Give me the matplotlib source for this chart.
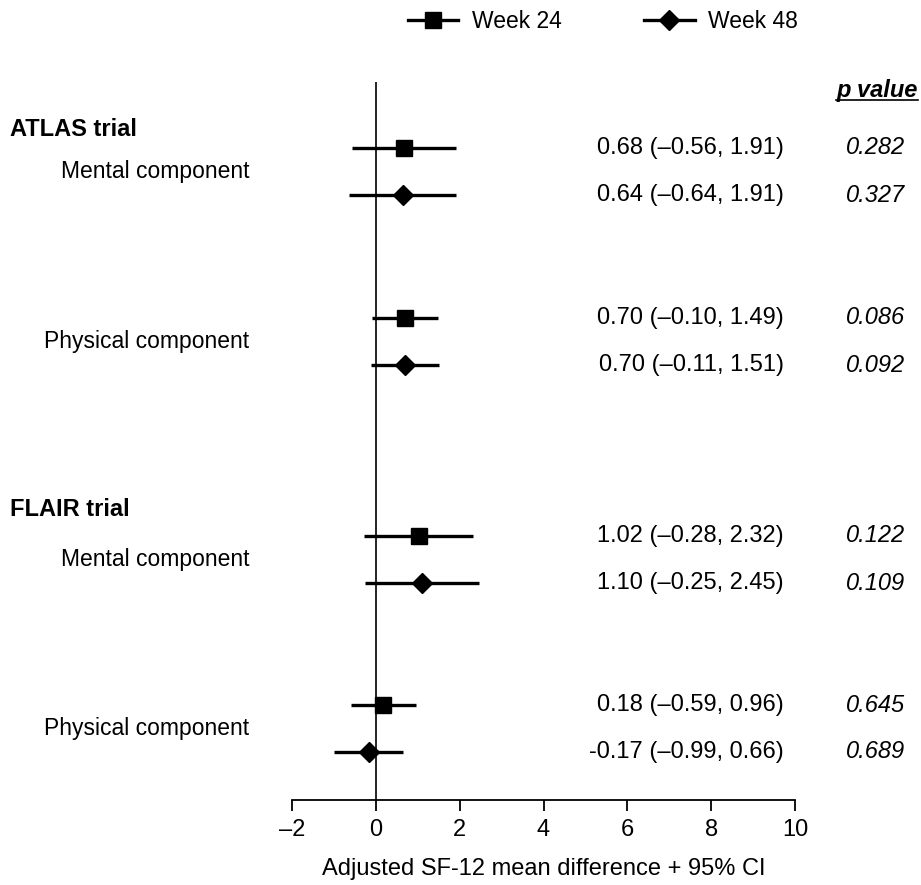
import matplotlib.pyplot as plt
from matplotlib.transforms import blended_transform_factory

plt.rcParams['font.family'] = ['Liberation Sans', 'DejaVu Sans']

trials = ['ATLAS trial', 'FLAIR trial']
components = ['Mental component', 'Physical component']
weeks = ['Week 24', 'Week 48']

# per trial/component: [week 24, week 48]
est = [[0.68, 0.64], [0.70, 0.70], [1.02, 1.10], [0.18, -0.17]]
lo = [[-0.56, -0.64], [-0.10, -0.11], [-0.28, -0.25], [-0.59, -0.99]]
hi = [[1.91, 1.91], [1.49, 1.51], [2.32, 2.45], [0.96, 0.66]]
pvals = [['0.282', '0.327'], ['0.086', '0.092'], ['0.122', '0.109'], ['0.645', '0.689']]
xticks = [-2, 0, 2, 4, 6, 8, 10]

W, H = 921, 885
fig = plt.figure(figsize=(W / 100, H / 100), dpi=100)
ax = fig.add_axes([292 / W, 1 - 800 / H, (795 - 292) / W, (800 - 82) / H])
ax.set_xlim(-2, 10)
ax.set_ylim(800, 82)   # y in pixel-ish rows from the top

# row layout: pair spacing and gaps between blocks
pair_top = [148, 318, 536, 705]
dy = 47
markers = ['s', 'D']
msize = [11.5, 10]

FS = 17
tx = blended_transform_factory(fig.transFigure, ax.transData)

for i in range(4):
    for w in range(2):
        y = pair_top[i] + w * dy
        e = est[i][w]
        ax.plot([lo[i][w], hi[i][w]], [y, y], color='black', lw=2.4,
                solid_capstyle='butt', zorder=2)
        ax.plot([e], [y], marker=markers[w], ms=msize[w], color='black',
                mec='black', ls='none', zorder=3)
        est_str = f'{e:.2f}'
        lo_str = f'{lo[i][w]:.2f}'.replace('-', '\u2013')
        hi_str = f'{hi[i][w]:.2f}'.replace('-', '\u2013')
        ax.text(784 / W, y, f'{est_str} ({lo_str}, {hi_str})', transform=tx,
                ha='right', va='center', fontsize=FS)
        ax.text(905 / W, y, pvals[i][w], transform=tx, ha='right',
                va='center', fontsize=FS, style='italic')
    # component label between the two rows
    ax.text(249 / W, pair_top[i] + dy / 2, components[i % 2], transform=tx,
            ha='right', va='center', fontsize=16.5)

for t, y in zip(trials, [130, 509]):
    ax.text(10 / W, y, t, transform=tx, ha='left', va='center',
            fontsize=FS, fontweight='bold')

fig.text(918 / W, 1 - 90 / H, 'p value', ha='right', va='center',
         fontsize=FS, fontweight='bold', style='italic')
fig.add_artist(plt.Line2D([836 / W, 918 / W], [1 - 100 / H, 1 - 100 / H],
                          color='black', lw=1.2))

ax.axvline(0, color='black', lw=1.2, zorder=1)

for s in ['top', 'right', 'left']:
    ax.spines[s].set_visible(False)
ax.spines['bottom'].set_linewidth(1.3)
ax.set_yticks([])
ax.set_xticks(xticks)
ax.set_xticklabels([f'{t}'.replace('-', '\u2013') for t in xticks])
ax.tick_params(axis='x', direction='out', length=8, width=1.3,
               labelsize=FS, pad=6)
ax.set_xlabel('Adjusted SF-12 mean difference + 95% CI', fontsize=FS,
              labelpad=12)

# legend handles
lh = [plt.Line2D([], [], color='black', lw=2.4, marker=m, ms=s)
      for m, s in zip(markers, msize)]
fig.legend(lh, weeks, loc='center', bbox_to_anchor=(603 / W, 1 - 22 / H),
           ncol=2, frameon=False, fontsize=16.5, handlelength=2.2,
           columnspacing=3.6, handletextpad=0.6)

fig.savefig('out.png', dpi=100)
